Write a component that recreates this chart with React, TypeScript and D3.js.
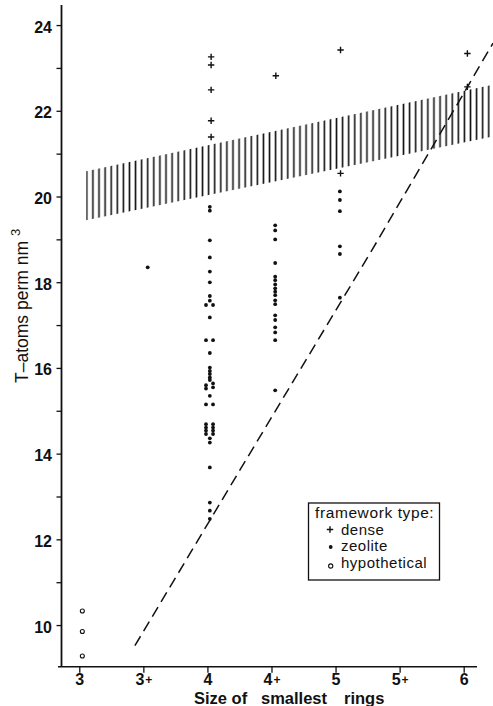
import React, { useEffect, useRef } from "react";
import * as d3 from "d3";

// x positions are category indices: 0 = "3", 1 = "3+", 2 = "4", ... 6 = "6"
const xTickLabels = ["3", "3+", "4", "4+", "5", "5+", "6"];
const yMajorTicks = [10, 12, 14, 16, 18, 20, 22, 24];
const yMinorTicks = [11, 13, 15, 17, 19, 21, 23];

const denseX = [2.05, 2.05, 2.05, 2.05, 2.05, 3.06, 4.07, 4.07, 6.05, 6.05];
const denseY = [23.27, 23.08, 22.5, 21.78, 21.4, 22.83, 23.43, 20.55, 23.35, 22.57];

const zeoliteX = [
  2.03, 2.03, 2.03, 2.03, 2.03, 2.03, 2.03, 2.03, 1.97, 2.08, 2.03, 1.97, 2.08,
  2.03, 2.03, 2.03, 2.03, 2.03, 2.03, 1.97, 2.08, 1.97, 2.08, 2.03, 1.97, 2.08,
  1.97, 2.08, 1.97, 2.08, 1.97, 2.08, 1.97, 2.08, 2.03, 2.03, 2.03, 2.03, 2.03,
  2.03,
  1.06,
  3.05, 3.05, 3.05, 3.05, 3.05, 3.05, 3.05, 3.05, 3.05, 3.05, 3.05, 3.05, 3.05,
  3.05, 3.05, 3.05, 3.05, 3.05,
  4.06, 4.06, 4.06, 4.06, 4.06, 4.06,
];
const zeoliteY = [
  19.77, 19.68, 18.99, 18.59, 18.26, 18.01, 17.69, 17.58, 17.48, 17.48, 17.19,
  16.66, 16.66, 16.36, 16.02, 15.94, 15.87, 15.79, 15.73, 15.61, 15.65, 15.53,
  15.56, 15.36, 15.16, 15.16, 14.7, 14.7, 14.62, 14.62, 14.55, 14.55, 14.47,
  14.47, 14.37, 14.27, 13.69, 12.87, 12.68, 12.49,
  18.36,
  19.34, 19.22, 19.01, 18.46, 18.14, 18.06, 17.96, 17.87, 17.79, 17.71, 17.59,
  17.5, 17.24, 17.13, 16.96, 16.84, 16.66, 15.49,
  20.13, 19.93, 19.67, 18.85, 18.67, 17.65,
];

const hypoX = [0.04, 0.04, 0.04];
const hypoY = [10.34, 9.86, 9.29];

// hatched band (density range)
const bandX = [0.1, 6.41];
const bandLow = [19.46, 21.4];
const bandHigh = [20.6, 22.61];

// dashed limit line
const limitX = [0.86, 2.5, 4.56, 6.45];
const limitY = [9.53, 13.63, 18.76, 23.59];

const legendItems = ["dense", "zeolite", "hypothetical"];

const W = 493;
const H = 706;
const FONT = "'Liberation Sans', Arial, Helvetica, sans-serif";
const INK = "#111";
const PLUS = "M-3.2,0H3.2M0,-3.2V3.2";

export default function App() {
  const ref = useRef<SVGSVGElement | null>(null);

  useEffect(() => {
    const svg = d3.select(ref.current).attr("width", W).attr("height", H);
    svg.selectAll("*").remove();

    const x = d3.scaleLinear().domain([-0.34, 6.2]).range([58, 477]);
    const y = d3.scaleLinear().domain([9.04, 24.48]).range([666.7, 5]);
    const axisX = 61.5;
    const axisY = y(9.04);

    svg.append("rect").attr("width", W).attr("height", H).attr("fill", "#fff");

    // hatch pattern
    const defs = svg.append("defs");
    const step = 6.09;
    const pat = defs
      .append("pattern")
      .attr("id", "hatch")
      .attr("patternUnits", "userSpaceOnUse")
      .attr("x", x(0.11) - step / 2)
      .attr("y", 0)
      .attr("width", step)
      .attr("height", 20);
    pat
      .append("line")
      .attr("x1", step / 2)
      .attr("x2", step / 2)
      .attr("y1", 0)
      .attr("y2", 20)
      .attr("stroke", INK)
      .attr("stroke-width", 1.6);

    const band = bandX.map((v, i) => ({ x: v, lo: bandLow[i], hi: bandHigh[i] }));
    svg
      .append("path")
      .datum(band)
      .attr(
        "d",
        d3
          .area<{ x: number; lo: number; hi: number }>()
          .x((d) => x(d.x))
          .y0((d) => y(d.lo))
          .y1((d) => y(d.hi))
      )
      .attr("fill", "url(#hatch)");

    // dashed line
    svg
      .append("path")
      .datum(limitX.map((v, i) => [v, limitY[i]] as [number, number]))
      .attr(
        "d",
        d3
          .line<[number, number]>()
          .x((d) => x(d[0]))
          .y((d) => y(d[1]))
      )
      .attr("fill", "none")
      .attr("stroke", INK)
      .attr("stroke-width", 1.5)
      .attr("stroke-dasharray", "11,6");

    // axes
    svg
      .append("line")
      .attr("x1", axisX)
      .attr("x2", axisX)
      .attr("y1", 5)
      .attr("y2", axisY)
      .attr("stroke", INK)
      .attr("stroke-width", 1.8);
    svg
      .append("line")
      .attr("x1", 58)
      .attr("x2", 477)
      .attr("y1", axisY)
      .attr("y2", axisY)
      .attr("stroke", INK)
      .attr("stroke-width", 1.6);

    svg
      .selectAll(".ytick")
      .data([...yMajorTicks, ...yMinorTicks])
      .join("line")
      .attr("x1", axisX - 5)
      .attr("x2", axisX)
      .attr("y1", (d) => y(d))
      .attr("y2", (d) => y(d))
      .attr("stroke", INK)
      .attr("stroke-width", 1.3);

    svg
      .selectAll(".ylab")
      .data(yMajorTicks)
      .join("text")
      .attr("x", 52)
      .attr("y", (d) => y(d) + 7)
      .attr("text-anchor", "end")
      .attr("font-family", FONT)
      .attr("font-size", 16)
      .attr("font-weight", "bold")
      .attr("fill", INK)
      .text((d) => String(d));

    svg
      .selectAll(".xtick")
      .data(xTickLabels)
      .join("line")
      .attr("x1", (_, i) => x(i))
      .attr("x2", (_, i) => x(i))
      .attr("y1", axisY)
      .attr("y2", axisY + 6)
      .attr("stroke", INK)
      .attr("stroke-width", 1.3);

    const xl = svg
      .selectAll(".xlab")
      .data(xTickLabels)
      .join("text")
      .attr("x", (_, i) => x(i))
      .attr("y", 684.5)
      .attr("text-anchor", "middle")
      .attr("font-family", FONT)
      .attr("font-size", 16)
      .attr("font-weight", "bold")
      .attr("fill", INK);
    xl.append("tspan").text((d) => d.replace("+", ""));
    xl.filter((d) => d.includes("+"))
      .append("tspan")
      .attr("font-size", 12)
      .attr("dx", 1)
      .attr("dy", -1)
      .text("+");

    // axis titles
    const xt = svg
      .append("text")
      .attr("y", 704)
      .attr("font-family", FONT)
      .attr("font-size", 16.5)
      .attr("font-weight", "bold")
      .attr("fill", INK);
    xt.append("tspan").attr("x", 194).text("Size of");
    xt.append("tspan").attr("x", 261).text("smallest");
    xt.append("tspan").attr("x", 344).text("rings");

    const yt = svg
      .append("text")
      .attr("transform", "translate(28,383) rotate(-90)")
      .attr("font-family", FONT)
      .attr("font-size", 17.5)
      .attr("fill", INK);
    yt.append("tspan").text("T\u2013atoms perm nm");
    yt.append("tspan").attr("font-size", 13).attr("dx", 5).attr("dy", -8).text("3");

    // points
    svg
      .selectAll(".zeo")
      .data(zeoliteX.map((v, i) => [v, zeoliteY[i]]))
      .join("circle")
      .attr("cx", (d) => x(d[0]))
      .attr("cy", (d) => y(d[1]))
      .attr("r", 1.9)
      .attr("fill", INK);

    svg
      .selectAll(".hyp")
      .data(hypoX.map((v, i) => [v, hypoY[i]]))
      .join("circle")
      .attr("cx", (d) => x(d[0]))
      .attr("cy", (d) => y(d[1]))
      .attr("r", 2)
      .attr("fill", "none")
      .attr("stroke", INK)
      .attr("stroke-width", 1.1);

    svg
      .selectAll(".dense")
      .data(denseX.map((v, i) => [v, denseY[i]]))
      .join("path")
      .attr("transform", (d) => `translate(${x(d[0])},${y(d[1])})`)
      .attr("d", PLUS)
      .attr("stroke", INK)
      .attr("stroke-width", 1.4);

    // legend
    const lg = svg.append("g");
    lg.append("rect")
      .attr("x", 308.5)
      .attr("y", 503)
      .attr("width", 131)
      .attr("height", 77)
      .attr("fill", "#fff")
      .attr("stroke", INK)
      .attr("stroke-width", 1.3);
    lg.append("text")
      .attr("x", 315)
      .attr("y", 517.5)
      .attr("font-family", FONT)
      .attr("font-size", 15.5)
      .attr("letter-spacing", 0.6)
      .attr("fill", INK)
      .text("framework type:");
    const base = [534.5, 551.3, 568.1];
    lg.selectAll(".li")
      .data(legendItems)
      .join("text")
      .attr("x", 341)
      .attr("y", (_, i) => base[i])
      .attr("font-family", FONT)
      .attr("font-size", 15)
      .attr("letter-spacing", 0.5)
      .attr("fill", INK)
      .text((d) => d);
    lg.append("path")
      .attr("transform", "translate(330,529.5)")
      .attr("d", PLUS)
      .attr("stroke", INK)
      .attr("stroke-width", 1.4);
    lg.append("circle").attr("cx", 330.7).attr("cy", 547).attr("r", 1.9).attr("fill", INK);
    lg.append("circle")
      .attr("cx", 330.7)
      .attr("cy", 566)
      .attr("r", 2.1)
      .attr("fill", "none")
      .attr("stroke", INK)
      .attr("stroke-width", 1.1);
  }, []);

  return <svg ref={ref} style={{ position: "absolute", left: 0, top: 0 }} />;
}
